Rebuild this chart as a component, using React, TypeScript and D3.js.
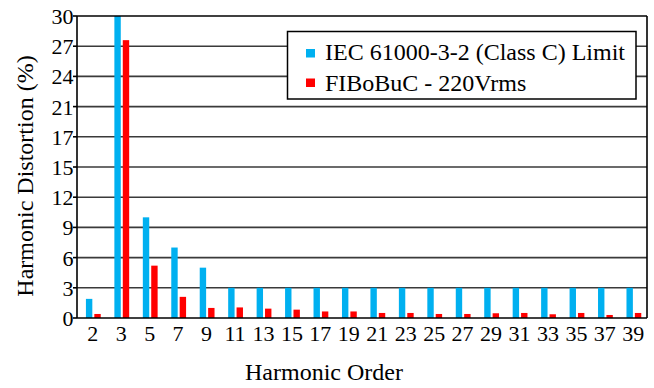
import React, { useEffect } from "react";
import * as d3 from "d3";

const categories = ["2","3","5","7","9","11","13","15","17","19","21","23","25","27","29","31","33","35","37","39"];
const iecLimit = [1.9,30,10,7,5,3,3,3,3,3,3,3,3,3,3,3,3,3,3,3];
const fibobuc = [0.4,27.6,5.2,2.1,1.0,1.05,0.93,0.83,0.65,0.65,0.5,0.5,0.4,0.4,0.47,0.5,0.37,0.5,0.3,0.5];
const yTickValues = [0,3,6,9,12,15,18,21,24,27,30];
const yTickLabels = ["0","3","6","9","12","15","17","21","24","27","30"];
const seriesNames = ["IEC 61000-3-2 (Class C) Limit", "FIBoBuC - 220Vrms"];
const seriesColors = ["#00B0F0", "#FF0000"];

const W = 654, H = 388;
const left = 77, right = 647, top = 16, bottom = 318;
const font = "'Liberation Serif', 'Times New Roman', serif";

export default function App() {
  useEffect(() => { document.body.style.margin = "0"; }, []);
  const x = d3.scaleBand<string>().domain(categories).range([78.5, 647.5]).padding(0);
  const y = d3.scaleLinear().domain([0, 30]).range([bottom, top]);
  const bw = 6.4;
  const cx = (c: string) => (x(c) as number) + x.bandwidth() / 2;

  return (
    <svg width={W} height={H} style={{ display: "block" }} fontFamily={font}>
      <rect x={0} y={0} width={W} height={H} fill="#fff" />
      {/* grid */}
      {yTickValues.filter(v => v > 0 && v < 30).map(v => (
        <line key={v} x1={left} x2={right} y1={y(v)} y2={y(v)} stroke="#3a3a3a" strokeWidth={1.6} />
      ))}
      {/* bars */}
      {categories.map((c, i) => (
        <g key={c}>
          <rect x={cx(c) - 6.8} y={y(iecLimit[i])} width={bw} height={bottom - y(iecLimit[i])} fill={seriesColors[0]} />
          <rect x={cx(c) + 1.6} y={y(fibobuc[i])} width={bw} height={bottom - y(fibobuc[i])} fill={seriesColors[1]} />
        </g>
      ))}
      {/* frame */}
      <line x1={left} x2={right} y1={top} y2={top} stroke="#000" strokeWidth={1.6} />
      <line x1={right} x2={right} y1={top} y2={bottom} stroke="#000" strokeWidth={1.6} />
      <line x1={left} x2={left} y1={top} y2={bottom} stroke="#000" strokeWidth={1.6} />
      <line x1={left} x2={right} y1={bottom} y2={bottom} stroke="#000" strokeWidth={1.6} />
      {/* y ticks */}
      {yTickValues.map((v, i) => (
        <g key={v}>
          <line x1={left - 4} x2={left} y1={y(v)} y2={y(v)} stroke="#000" strokeWidth={1.6} />
          <text x={73.5} y={y(v) + 8} textAnchor="end" fontSize={22} fill="#000">{yTickLabels[i]}</text>
        </g>
      ))}
      {/* x labels */}
      {categories.map(c => (
        <text key={c} x={cx(c)} y={340.5} textAnchor="middle" fontSize={22} fill="#000">{c}</text>
      ))}
      {/* titles */}
      <text x={324} y={379.5} textAnchor="middle" fontSize={24} fill="#000">Harmonic Order</text>
      <text transform={`translate(33,176) rotate(-90)`} textAnchor="middle" fontSize={24} fill="#000">Harmonic Distortion (%)</text>
      {/* legend */}
      <rect x={287.5} y={31.5} width={348.5} height={67.5} fill="#fff" stroke="#000" strokeWidth={1.5} />
      {seriesNames.map((n, i) => (
        <g key={n}>
          <rect x={306} y={49 + i * 29.5} width={9} height={8.5} fill={seriesColors[i]} />
          <text x={325} y={60 + i * 30.5} fontSize={24} fill="#000">{n}</text>
        </g>
      ))}
    </svg>
  );
}
